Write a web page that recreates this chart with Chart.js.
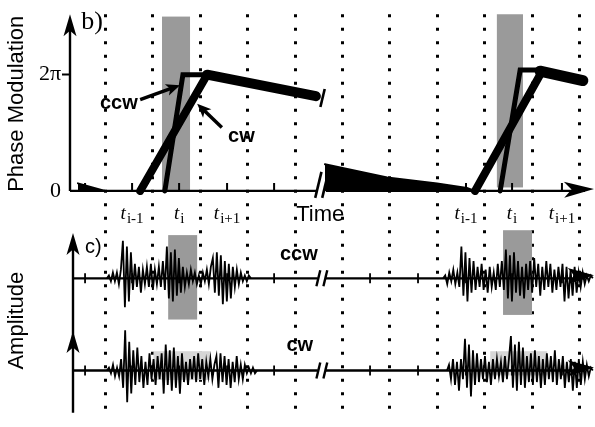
<!DOCTYPE html>
<html>
<head>
<meta charset="utf-8">
<script src="https://cdn.jsdelivr.net/npm/chart.js@4"></script>
<style>
  body { margin: 0; background: #fff; }
  canvas { display: block; }
</style>
</head>
<body>
<canvas id="phaseChart" width="595" height="427"></canvas>
<script>
// time axis in "slots": slot 0 = first dotted line, one slot between dotted lines
var gridSlots = [0, 1, 2, 3, 4, 5, 6, 7, 8, 9, 10];
var tickSlots = [-0.42, 0.57, 1.56, 2.57, 3.56, 5.58, 6.59, 7.6, 8.57, 9.62];
var tNames = ["i-1", "i", "i+1"];
var tLeftSlots = [0.57, 1.56, 2.57];
var tRightSlots = [7.6, 8.57, 9.62];
var breakGap = [4.48, 4.65];

// b) phase modulation, in units of pi
var phaseTicks = [0, 2];
var tailLeft = [[-0.57, 0.13], [0, 0]];
var cwLeft = [[0.74, 0], [2.15, 2]];
var ccwLeft = [[1.26, 0], [1.64, 2], [2.15, 2]];
var dropLeft = [[2.15, 2], [4.44, 1.63]];
var tailRight = [[4.63, 0.46], [5.94, 0.23], [6.99, 0.13], [7.62, 0.05], [7.79, 0]];
var cwRight = [[7.79, 0], [9.16, 2]];
var ccwRight = [[8.32, 0], [8.74, 2.08], [9.16, 2.08]];
var dropRight = [[9.16, 2.06], [10.06, 1.9]];

// shaded windows: [x0, x1, y0, y1]
var shadePhase = [[1.2, 1.79, 0, 3.0], [8.25, 8.8, 0.06, 3.04]];
var shadeAmp = [[1.33, 1.94, -14.3, 15], [8.38, 8.99, -12.7, 16.7]];
var shadeFaint = [[1.02, 2.21, -35.3, -25.3], [8.11, 9.31, -33.7, -25.3]];

// c) amplitude traces (arbitrary units)
var ccwBase = 0, cwBase = -32;
var ccwBurstA = [0,1,-1,2,-1,2,-2,3, 13,-10,11,-8,9,
  -4,5,-3,4,-5,3,-2,4,-3,5,-4,3,-2,4,-3,6,-4,
  11,-7,9,-8,10,-6,7,-5,4,-3,
  2,-2,3,-1,2,-2,1,-2,2,-1,3,-2,4,
  7,-5,9,-6,8,-9,6,-8,5,-7,4,-3,3,-2,
  2,-1,1,-1,1,0];
var ccwBurstB = [0,1,-2,2,-1,3,-2,2,-3,
  11,-6,9,-8,7,-5,6,-4,
  4,-3,5,-4,3,-5,4,-3,2,-4,5,-3,
  6,-4,10,-7,8,-8,9,-5,6,-6,4,-7,5,
  -4,6,-5,7,-3,5,-6,4,-4,6,-3,5,-5,3,-4,4,-3,
  5,-8,4,-7,3,-6,4,-5,2,-3,2,-2,
  1,-1,1,0];
var cwBurstA = [0,1,-1,2,-2,1,-2,
  4,-6,14,-11,10,-8,7,-5,
  8,-4,5,-6,3,-5,6,-3,4,-5,5,-3,
  6,-8,9,-5,7,-7,8,-6,5,-8,6,-4,3,-5,4,
  -3,5,-4,6,-3,4,-5,3,-2,4,-3,2,
  5,-6,6,-4,5,-5,4,-6,3,-4,5,-3,2,-3,2,
  -1,1,-1,1,-1,0];
var cwBurstB = [0,2,-3,4,-5,3,-7,4,-3,
  11,-6,9,-9,7,-5,6,-4,
  4,-3,5,-4,3,-5,4,-3,4,-2,3,-4,5,-3,4,
  12,-6,9,-7,10,-5,8,-6,5,-4,
  6,-5,7,-4,5,-6,4,-5,6,-3,5,-4,7,-5,4,-3,5,-6,3,-4,
  4,-7,3,-6,4,-5,3,-3,2,-2,1,0];
var burstSpans = { ccwA: [0.04, 3.07], ccwB: [7.12, 10.27], cwA: [0.04, 3.2], cwB: [7.2, 10.27] };

function pairs(arr) {
  return arr.map(function (p) { return { x: p[0], y: p[1] }; });
}

function burst(vals, span, base) {
  var step = (span[1] - span[0]) / (vals.length - 1);
  return vals.map(function (v, i) { return { x: span[0] + i * step, y: base + v }; });
}

function phaseLine(arr, w, fill) {
  return {
    data: pairs(arr), yAxisID: 'yPh', borderColor: '#000', backgroundColor: '#000',
    borderWidth: w, fill: fill ? 'origin' : false, pointRadius: 0,
    borderCapStyle: 'round', borderJoinStyle: 'miter'
  };
}

function ampLine(data) {
  return { data: data, yAxisID: 'yAmp', borderColor: '#000', borderWidth: 1.8, pointRadius: 0, fill: false };
}

function arrowHead(ctx, x, y, ang, len, half) {
  ctx.save();
  ctx.translate(x, y);
  ctx.rotate(ang);
  ctx.beginPath();
  ctx.moveTo(0, 0);
  ctx.lineTo(-len, -half);
  ctx.lineTo(-len * 0.75, 0);
  ctx.lineTo(-len, half);
  ctx.closePath();
  ctx.fill();
  ctx.restore();
}

function breakMark(ctx, x, y, h, n) {
  for (var i = 0; i < n; i++) {
    var dx = n === 2 ? (i === 0 ? -3.5 : 3.5) : 0;
    ctx.beginPath();
    ctx.moveTo(x + dx - h * 0.12, y + h / 2);
    ctx.lineTo(x + dx + h * 0.12, y - h / 2);
    ctx.stroke();
  }
}

function tLabel(ctx, xc, y, sub) {
  ctx.font = 'italic 19px "Liberation Serif"';
  var w1 = ctx.measureText('t').width;
  ctx.font = '15px "Liberation Serif"';
  var w2 = ctx.measureText(sub).width;
  var x = xc - (w1 + w2 + 1) / 2;
  ctx.textAlign = 'left';
  ctx.font = 'italic 19px "Liberation Serif"';
  ctx.fillText('t', x, y);
  ctx.font = '15px "Liberation Serif"';
  ctx.fillText(sub, x + w1 + 1, y + 4);
}

var figure = {
  id: 'figure',
  beforeDatasetsDraw: function (chart) {
    var ctx = chart.ctx, sx = chart.scales.x, sp = chart.scales.yPh, sa = chart.scales.yAmp;
    ctx.save();
    ctx.fillStyle = '#9a9a9a';
    shadePhase.forEach(function (r) {
      var x0 = sx.getPixelForValue(r[0]), x1 = sx.getPixelForValue(r[1]);
      var y0 = sp.getPixelForValue(r[3]), y1 = sp.getPixelForValue(r[2]);
      ctx.fillRect(x0, y0, x1 - x0, y1 - y0);
    });
    shadeAmp.forEach(function (r) {
      var x0 = sx.getPixelForValue(r[0]), x1 = sx.getPixelForValue(r[1]);
      var y0 = sa.getPixelForValue(r[3]), y1 = sa.getPixelForValue(r[2]);
      ctx.fillRect(x0, y0, x1 - x0, y1 - y0);
    });
    ctx.fillStyle = '#d6d6d6';
    shadeFaint.forEach(function (r) {
      var x0 = sx.getPixelForValue(r[0]), x1 = sx.getPixelForValue(r[1]);
      var y0 = sa.getPixelForValue(r[3]), y1 = sa.getPixelForValue(r[2]);
      ctx.fillRect(x0, y0, x1 - x0, y1 - y0);
    });
    ctx.restore();
  },
  afterDatasetsDraw: function (chart) {
    var ctx = chart.ctx, area = chart.chartArea;
    var sx = chart.scales.x, sp = chart.scales.yPh, sa = chart.scales.yAmp;
    var X = function (v) { return sx.getPixelForValue(v); };
    var gapL = X(breakGap[0]), gapR = X(breakGap[1]), gapC = (gapL + gapR) / 2;
    ctx.save();
    ctx.strokeStyle = '#000';
    ctx.fillStyle = '#000';
    ctx.lineCap = 'butt';

    // b) axes
    var y0 = sp.getPixelForValue(0);
    ctx.lineWidth = 2.4;
    ctx.beginPath();
    ctx.moveTo(area.left, y0); ctx.lineTo(area.left, sp.getPixelForValue(2.8));
    ctx.moveTo(area.left, y0); ctx.lineTo(gapL, y0);
    ctx.moveTo(gapR, y0); ctx.lineTo(area.right - 10, y0);
    ctx.stroke();
    arrowHead(ctx, area.left, sp.getPixelForValue(3.04), -Math.PI / 2, 22, 6.5);
    arrowHead(ctx, area.right - 1, y0 - 2, -0.03, 30, 8);
    ctx.lineWidth = 2;
    ctx.beginPath();
    tickSlots.forEach(function (t) {
      ctx.moveTo(X(t), y0); ctx.lineTo(X(t), y0 - 8);
    });
    ctx.stroke();
    ctx.lineWidth = 2.6;
    breakMark(ctx, gapC, y0 - 6, 26, 2);
    breakMark(ctx, X(4.58), sp.getPixelForValue(1.6), 18, 1);

    // c) axes
    var ax = area.left + 3;
    var yc = sa.getPixelForValue(ccwBase), yw = sa.getPixelForValue(cwBase);
    ctx.lineWidth = 2.4;
    ctx.beginPath();
    ctx.moveTo(ax, sa.getPixelForValue(13)); ctx.lineTo(ax, area.bottom);
    [yc, yw].forEach(function (y) {
      ctx.moveTo(ax, y); ctx.lineTo(gapL, y);
      ctx.moveTo(gapR, y); ctx.lineTo(area.right - 10, y);
    });
    ctx.stroke();
    arrowHead(ctx, ax, sa.getPixelForValue(15.7), -Math.PI / 2, 22, 6.5);
    arrowHead(ctx, ax, sa.getPixelForValue(-18.3), -Math.PI / 2, 22, 6.5);
    arrowHead(ctx, area.right - 1, yc - 3, -0.03, 26, 8);
    arrowHead(ctx, area.right - 1, yw - 3, -0.03, 26, 8);
    ctx.lineWidth = 1.8;
    ctx.beginPath();
    [yc, yw].forEach(function (y) {
      tickSlots.forEach(function (t) {
        ctx.moveTo(X(t), y - 5); ctx.lineTo(X(t), y + 5);
      });
    });
    ctx.stroke();
    ctx.lineWidth = 2.4;
    breakMark(ctx, gapC, yc, 16, 2);
    breakMark(ctx, gapC, yw, 16, 2);

    // annotation arrows
    ctx.lineWidth = 3.5;
    var ccwTail = [X(0.74), sp.getPixelForValue(1.57)], ccwTip = [X(1.58), sp.getPixelForValue(1.82)];
    var cwTail = [X(2.46), sp.getPixelForValue(1.09)], cwTip = [X(1.94), sp.getPixelForValue(1.5)];
    [[ccwTail, ccwTip], [cwTail, cwTip]].forEach(function (a) {
      var ang = Math.atan2(a[1][1] - a[0][1], a[1][0] - a[0][0]);
      ctx.beginPath();
      ctx.moveTo(a[0][0], a[0][1]);
      ctx.lineTo(a[1][0] - 8 * Math.cos(ang), a[1][1] - 8 * Math.sin(ang));
      ctx.stroke();
      arrowHead(ctx, a[1][0], a[1][1], ang, 14, 6);
    });

    // text
    ctx.textBaseline = 'middle';
    ctx.font = 'bold 20px "Liberation Sans"';
    ctx.textAlign = 'right';
    ctx.fillText('ccw', X(0.69), sp.getPixelForValue(1.5));
    ctx.textAlign = 'left';
    ctx.fillText('cw', X(2.59), sp.getPixelForValue(0.94));
    ctx.textAlign = 'center';
    ctx.fillText('ccw', X(4.08), sa.getPixelForValue(8.3));
    ctx.fillText('cw', X(4.1), sa.getPixelForValue(-23.3));
    ctx.textAlign = 'left';
    ctx.font = '20px "Liberation Sans"';
    ctx.fillText('c)', X(-0.42), sa.getPixelForValue(10.7));
    ctx.font = '26px "Liberation Serif"';
    ctx.fillText('b)', X(-0.5), sp.getPixelForValue(2.91));
    ctx.textAlign = 'center';
    ctx.font = '22px "Liberation Sans"';
    ctx.fillText('Time', X(4.53), sp.getPixelForValue(-0.42));

    ctx.textBaseline = 'alphabetic';
    var ty = sp.getPixelForValue(-0.48);
    tLeftSlots.forEach(function (t, i) { tLabel(ctx, X(t), ty, tNames[i]); });
    tRightSlots.forEach(function (t, i) { tLabel(ctx, X(t), ty, tNames[i]); });

    ctx.textAlign = 'center';
    ctx.textBaseline = 'middle';
    ctx.font = '22px "Liberation Sans"';
    ctx.save();
    ctx.translate(17, sp.getPixelForValue(1.5));
    ctx.rotate(-Math.PI / 2);
    ctx.fillText('Phase Modulation', 0, 0);
    ctx.restore();
    ctx.save();
    ctx.translate(17, sa.getPixelForValue(-14.7));
    ctx.rotate(-Math.PI / 2);
    ctx.fillText('Amplitude', 0, 0);
    ctx.restore();
    ctx.restore();
  }
};

var ctx = document.getElementById('phaseChart');

var myChart = new Chart(ctx, {
  type: 'line',
  data: {
    datasets: [
      phaseLine(tailLeft, 2, true),
      phaseLine(ccwLeft, 5, false),
      phaseLine(cwLeft, 8, false),
      phaseLine(dropLeft, 10, false),
      phaseLine(tailRight, 2, true),
      phaseLine(ccwRight, 5, false),
      phaseLine(cwRight, 8, false),
      phaseLine(dropRight, 11, false),
      ampLine(burst(ccwBurstA, burstSpans.ccwA, ccwBase)),
      ampLine(burst(ccwBurstB, burstSpans.ccwB, ccwBase)),
      ampLine(burst(cwBurstA, burstSpans.cwA, cwBase)),
      ampLine(burst(cwBurstB, burstSpans.cwB, cwBase))
    ]
  },
  options: {
    responsive: false,
    animation: false,
    devicePixelRatio: 1,
    layout: { padding: { top: 12, right: 0, bottom: 0, left: 0 } },
    plugins: { legend: { display: false }, tooltip: { enabled: false } },
    scales: {
      x: {
        type: 'linear', position: 'bottom', min: -0.737, max: 10.316,
        afterBuildTicks: function (s) { s.ticks = gridSlots.map(function (v) { return { value: v }; }); },
        afterFit: function (s) { s.height = 0; },
        ticks: { display: false },
        grid: { color: '#000', lineWidth: 3, drawTicks: false },
        border: { display: false, dash: [3, 10.5] }
      },
      yPh: {
        type: 'linear', position: 'left', min: -3.818, max: 3.041,
        afterBuildTicks: function (s) { s.ticks = phaseTicks.map(function (v) { return { value: v }; }); },
        afterFit: function (s) { s.width = 70; },
        ticks: {
          padding: 1, color: '#000',
          font: { family: 'Liberation Serif', size: 22 },
          callback: function (v) { return v === 2 ? '2\u03c0' : '0'; }
        },
        grid: {
          drawOnChartArea: false, drawTicks: true, tickLength: 8, tickWidth: 2,
          tickColor: function (c) { return c.tick && c.tick.value === 2 ? '#000' : 'rgba(0,0,0,0)'; }
        },
        border: { display: false }
      },
      yAmp: {
        type: 'linear', position: 'left', display: false, min: -46.67, max: 91.67
      }
    }
  },
  plugins: [figure]
});
</script>
</body>
</html>
